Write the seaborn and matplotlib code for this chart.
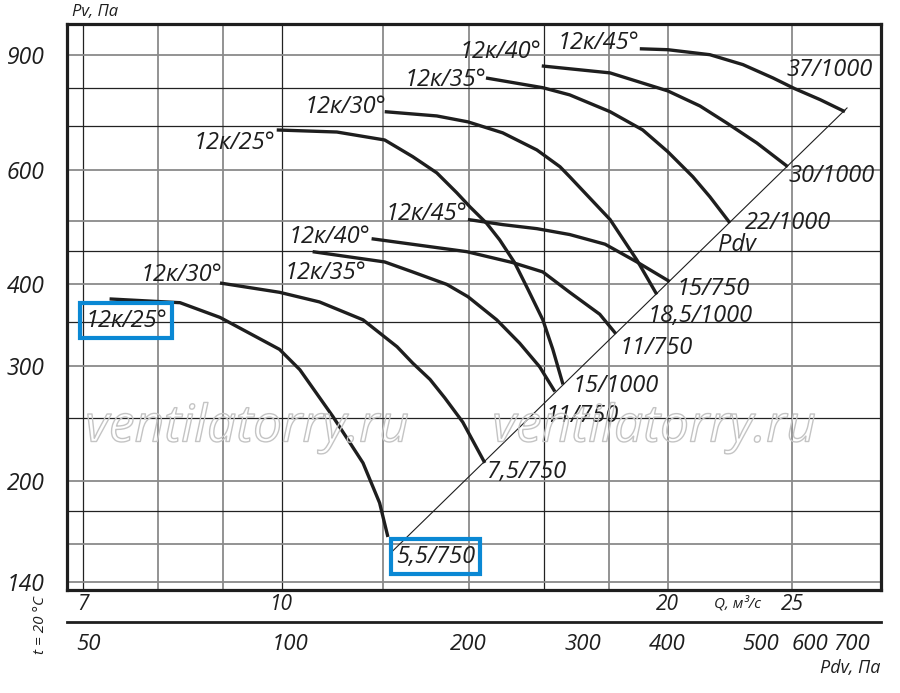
import matplotlib
matplotlib.use("Agg")
import pandas as pd
import seaborn as sns
import matplotlib.pyplot as plt
from matplotlib import patheffects
from matplotlib.ticker import NullLocator
from matplotlib.transforms import ScaledTranslation

# fan curves: Q in m3/s, Pv in Pa
q_25_750 = [7.34, 8.33, 8.95, 9.96, 10.33, 10.96, 11.57, 11.92, 12.10]
p_25_750 = [380, 375, 356, 318, 296, 251, 213, 185, 164]
q_30_750 = [8.95, 9.96, 10.70, 11.57, 12.30, 12.65, 13.05, 13.40, 13.84, 14.40]
p_30_750 = [402, 389, 376, 353, 321, 303, 286, 268, 246, 213]
q_35_750 = [10.57, 12.03, 12.65, 13.45, 13.97, 14.71, 15.33, 15.89, 16.33]
p_35_750 = [449, 433, 418, 400, 383, 353, 325, 299, 274]
q_40_750 = [11.75, 13.94, 15.14, 15.98, 16.77, 17.70, 18.22]
p_40_750 = [470, 449, 432, 418, 389, 360, 336]
q_45_750 = [13.97, 14.87, 15.81, 16.77, 17.87, 18.92, 20.07]
p_45_750 = [503, 494, 487, 477, 461, 433, 404]

q_25_1000 = [9.91, 11.04, 12.03, 12.65, 13.21, 13.69, 14.02, 14.45, 14.79,
             15.19, 15.56, 15.98, 16.27, 16.57]
p_25_1000 = [690, 685, 666, 628, 593, 553, 526, 496, 468, 432, 393, 353, 318, 281]
q_30_1000 = [12.03, 13.21, 13.97, 14.87, 15.81, 16.48, 16.77, 18.03, 18.92, 19.61]
p_30_1000 = [736, 725, 710, 683, 643, 606, 585, 503, 436, 386]
q_35_1000 = [14.43, 15.98, 16.77, 18.03, 19.12, 20.0, 20.92, 21.57, 22.36]
p_35_1000 = [829, 801, 781, 736, 690, 639, 585, 545, 497]
q_40_1000 = [15.95, 18.03, 20.0, 21.19, 22.24, 23.47, 24.81]
p_40_1000 = [865, 844, 792, 751, 707, 659, 606]
q_45_1000 = [19.02, 20.0, 21.57, 22.89, 24.16, 25.13, 26.29, 27.49]
p_45_1000 = [919, 916, 900, 869, 829, 798, 768, 736]

# Pdv line (end points)
q_pdv_line = [12.2, 27.6]
p_pdv_line = [156, 746]

grid_q_dark = [7, 10, 16]
grid_q_grey = [8, 9, 12, 14, 18, 20, 25]
grid_p_dark = [180, 250, 350, 450, 700, 800]
grid_p_grey = [140, 160, 200, 300, 400, 500, 600, 900]

q_ticks = [7, 10, 20, 25]
p_ticks = [140, 200, 300, 400, 600, 900]
pdv_labels = ["50", "100", "200", "300", "400", "500", "600", "700"]
pdv_at_q = [7.15, 10.15, 13.97, 17.17, 19.97, 24.37, 25.80, 27.21]

curves = {
    "25_750": (q_25_750, p_25_750), "30_750": (q_30_750, p_30_750),
    "35_750": (q_35_750, p_35_750), "40_750": (q_40_750, p_40_750),
    "45_750": (q_45_750, p_45_750), "25_1000": (q_25_1000, p_25_1000),
    "30_1000": (q_30_1000, p_30_1000), "35_1000": (q_35_1000, p_35_1000),
    "40_1000": (q_40_1000, p_40_1000), "45_1000": (q_45_1000, p_45_1000),
}
df = pd.concat(
    [pd.DataFrame({"Q": q, "P": p, "curve": name}) for name, (q, p) in curves.items()],
    ignore_index=True,
)

sns.set_theme(style="white")
plt.rcParams["font.family"] = ["Open Sans", "DejaVu Sans"]
plt.rcParams["font.style"] = "italic"
ink = "#1e1e1e"

fig = plt.figure(figsize=(9, 6.93), dpi=100)
ax = fig.add_axes([67 / 900, 1 - 590 / 693, 814 / 900, 566 / 693])
ax.set_xscale("log")
ax.set_yscale("log")
ax.set_xlim(6.80, 29.33)
ax.set_ylim(136, 1003)

for q in grid_q_dark:
    ax.axvline(q, color="#222222", lw=0.9, zorder=1)
for q in grid_q_grey:
    ax.axvline(q, color="#8a8a8a", lw=1.3, zorder=1)
for p in grid_p_dark:
    ax.axhline(p, color="#222222", lw=0.9, zorder=1)
for p in grid_p_grey:
    ax.axhline(p, color="#8a8a8a", lw=1.3, zorder=1)

sns.lineplot(data=df, x="Q", y="P", units="curve", estimator=None, sort=False,
             color=ink, linewidth=2.4, legend=False, ax=ax, zorder=3,
             solid_joinstyle="round", solid_capstyle="butt")
ax.plot(q_pdv_line, p_pdv_line, color=ink, lw=0.8, zorder=2)

# curve labels
lab = dict(fontsize=17, color=ink, zorder=4)
box = dict(boxstyle="square,pad=0.22", fc="none", ec="#0a88d4", lw=3)
ax.text(9.88, 659, "12к/25°", ha="right", va="center", **lab)
ax.text(12.07, 748, "12к/30°", ha="right", va="center", **lab)
ax.text(14.45, 823, "12к/35°", ha="right", va="center", **lab)
ax.text(15.95, 909, "12к/40°", ha="right", va="center", **lab)
ax.text(19.02, 939, "12к/45°", ha="right", va="center", **lab)
ax.text(7.03, 352, "12к/25°", ha="left", va="center", bbox=box, **lab)
ax.text(8.98, 414, "12к/30°", ha="right", va="center", **lab)
ax.text(10.05, 417, "12к/35°", ha="left", va="center", **lab)
ax.text(11.72, 473, "12к/40°", ha="right", va="center", **lab)
ax.text(13.95, 512, "12к/45°", ha="right", va="center", **lab)

ax.text(24.77, 853, "37/1000", ha="left", va="center", **lab)
ax.text(24.85, 587, "30/1000", ha="left", va="center", **lab)
ax.text(22.97, 497, "22/1000", ha="left", va="center", **lab)
ax.text(21.88, 459, "Pdv", ha="left", va="center", **lab)
ax.text(20.33, 394, "15/750", ha="left", va="center", **lab)
ax.text(19.30, 358, "18,5/1000", ha="left", va="center", **lab)
ax.text(18.35, 320, "11/750", ha="left", va="center", **lab)
ax.text(16.87, 279, "15/1000", ha="left", va="center", **lab)
ax.text(16.07, 251, "11/750", ha="left", va="center", **lab)
ax.text(14.45, 206, "7,5/750", ha="left", va="center", **lab)
ax.text(12.28, 153, "5,5/750", ha="left", va="center", bbox=box, **lab)

# watermark
for xw in [247 / 900, 654 / 900]:
    fig.text(xw, 1 - 428 / 693, "ventilatorry.ru", fontsize=37, color="none",
             ha="center", va="center",
             path_effects=[patheffects.Stroke(linewidth=1, foreground="#c4c4c4")])

ax.set_xticks(q_ticks)
ax.set_xticklabels([str(v) for v in q_ticks])
ax.set_yticks(p_ticks)
ax.set_yticklabels([str(v) for v in p_ticks])
ax.xaxis.set_minor_locator(NullLocator())
ax.yaxis.set_minor_locator(NullLocator())
ax.tick_params(axis="x", length=0, pad=3, labelsize=15, labelcolor=ink)
ax.tick_params(axis="y", length=0, pad=16, labelsize=16.5, labelcolor=ink)
ax.set_xlabel("")
ax.set_ylabel("")
for s in ax.spines.values():
    s.set_visible(True)
    s.set_color(ink)
    s.set_linewidth(2.3)

# Pdv scale below
ax2 = fig.add_axes([67 / 900, 1 - 622 / 693, 814 / 900, 0.0001])
ax2.patch.set_alpha(0)
ax2.set_xscale("log")
ax2.set_xlim(ax.get_xlim())
ax2.set_yticks([])
ax2.set_xticks(pdv_at_q)
ax2.set_xticklabels(pdv_labels)
ax2.xaxis.set_minor_locator(NullLocator())
for name, s in ax2.spines.items():
    s.set_visible(name == "bottom")
ax2.spines["bottom"].set_color(ink)
ax2.spines["bottom"].set_linewidth(2.0)
ax2.tick_params(axis="x", direction="inout", length=12, width=1.2, color=ink,
                pad=3, labelsize=16, labelcolor=ink)
# nudge crowded labels apart as in the original
shifts = {"50": -7, "500": -17, "700": 12}
for t in ax2.get_xticklabels():
    dx = shifts.get(t.get_text(), 0)
    if dx:
        t.set_transform(t.get_transform() + ScaledTranslation(dx / 100, 0, fig.dpi_scale_trans))

fig.text(72 / 900, 1 - 12 / 693, "Pv, Па", ha="left", va="center", fontsize=12, color=ink)
fig.text(738 / 900, 1 - 604 / 693, "Q, м³/с", ha="center", va="center", fontsize=11, color=ink)
fig.text(880 / 900, 1 - 668 / 693, "Pdv, Па", ha="right", va="center", fontsize=13, color=ink)
fig.text(40 / 900, 1 - 625 / 693, "t = 20 °C", ha="center", va="center", rotation=90,
         fontsize=11, color=ink)

fig.savefig("out.png", dpi=100, facecolor="white")
